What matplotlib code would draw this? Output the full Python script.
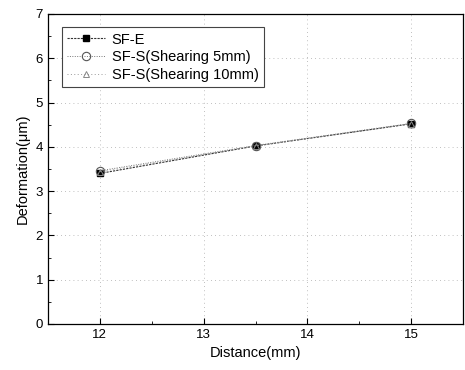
import matplotlib
matplotlib.use("Agg")
import matplotlib.pyplot as plt
from matplotlib.ticker import MultipleLocator

distance = [12, 13.5, 15]
sf_e = [3.40, 4.02, 4.52]
sf_s5 = [3.46, 4.03, 4.53]
sf_s10 = [3.44, 4.02, 4.52]
labels = ["SF-E", "SF-S(Shearing 5mm)", "SF-S(Shearing 10mm)"]

plt.rcParams['font.family'] = ['Liberation Sans', 'DejaVu Sans']
fig = plt.figure(figsize=(4.65, 3.7), dpi=100)
ax = fig.add_axes([48/465, 1-324/370, (463-48)/465, (324-14)/370])

ax.plot(distance, sf_e, color='#333333', lw=0.8, ls=(0, (2, 1)), marker='s', ms=5,
        mfc='black', mec='black', label=labels[0])
ax.plot(distance, sf_s5, color='#777777', lw=0.7, ls=(0, (1, 1.5)), marker='o', ms=6,
        mfc='none', mec='#555555', mew=0.8, label=labels[1])
ax.plot(distance, sf_s10, color='#999999', lw=0.7, ls=(0, (1, 2.5)), marker='^', ms=5,
        mfc='none', mec='#888888', mew=0.7, label=labels[2])

ax.set_xlim(11.5, 15.5)
ax.set_ylim(0, 7)
ax.xaxis.set_major_locator(MultipleLocator(1))
ax.xaxis.set_minor_locator(MultipleLocator(0.5))
ax.yaxis.set_major_locator(MultipleLocator(1))
ax.yaxis.set_minor_locator(MultipleLocator(0.5))
ax.tick_params(which='both', direction='in', top=False, right=False, labelsize=9.5)
ax.tick_params(which='major', length=4)
ax.tick_params(which='minor', length=2.5)
ax.grid(True, which='major', color='#aaaaaa', ls=(0, (1, 4)), lw=0.6)
for s in ax.spines.values():
    s.set_linewidth(0.9)

ax.set_xlabel("Distance(mm)", fontsize=10.5)
ax.set_ylabel("Deformation(\u03bcm)", fontsize=10.5)

leg = ax.legend(loc='upper left', bbox_to_anchor=(0.015, 0.98), fontsize=10.5,
                fancybox=False, framealpha=1, edgecolor='#444444',
                handlelength=2.6, borderpad=0.35, labelspacing=0.25, handletextpad=0.5)
leg.get_frame().set_linewidth(0.8)

fig.savefig("out.png", dpi=100)
